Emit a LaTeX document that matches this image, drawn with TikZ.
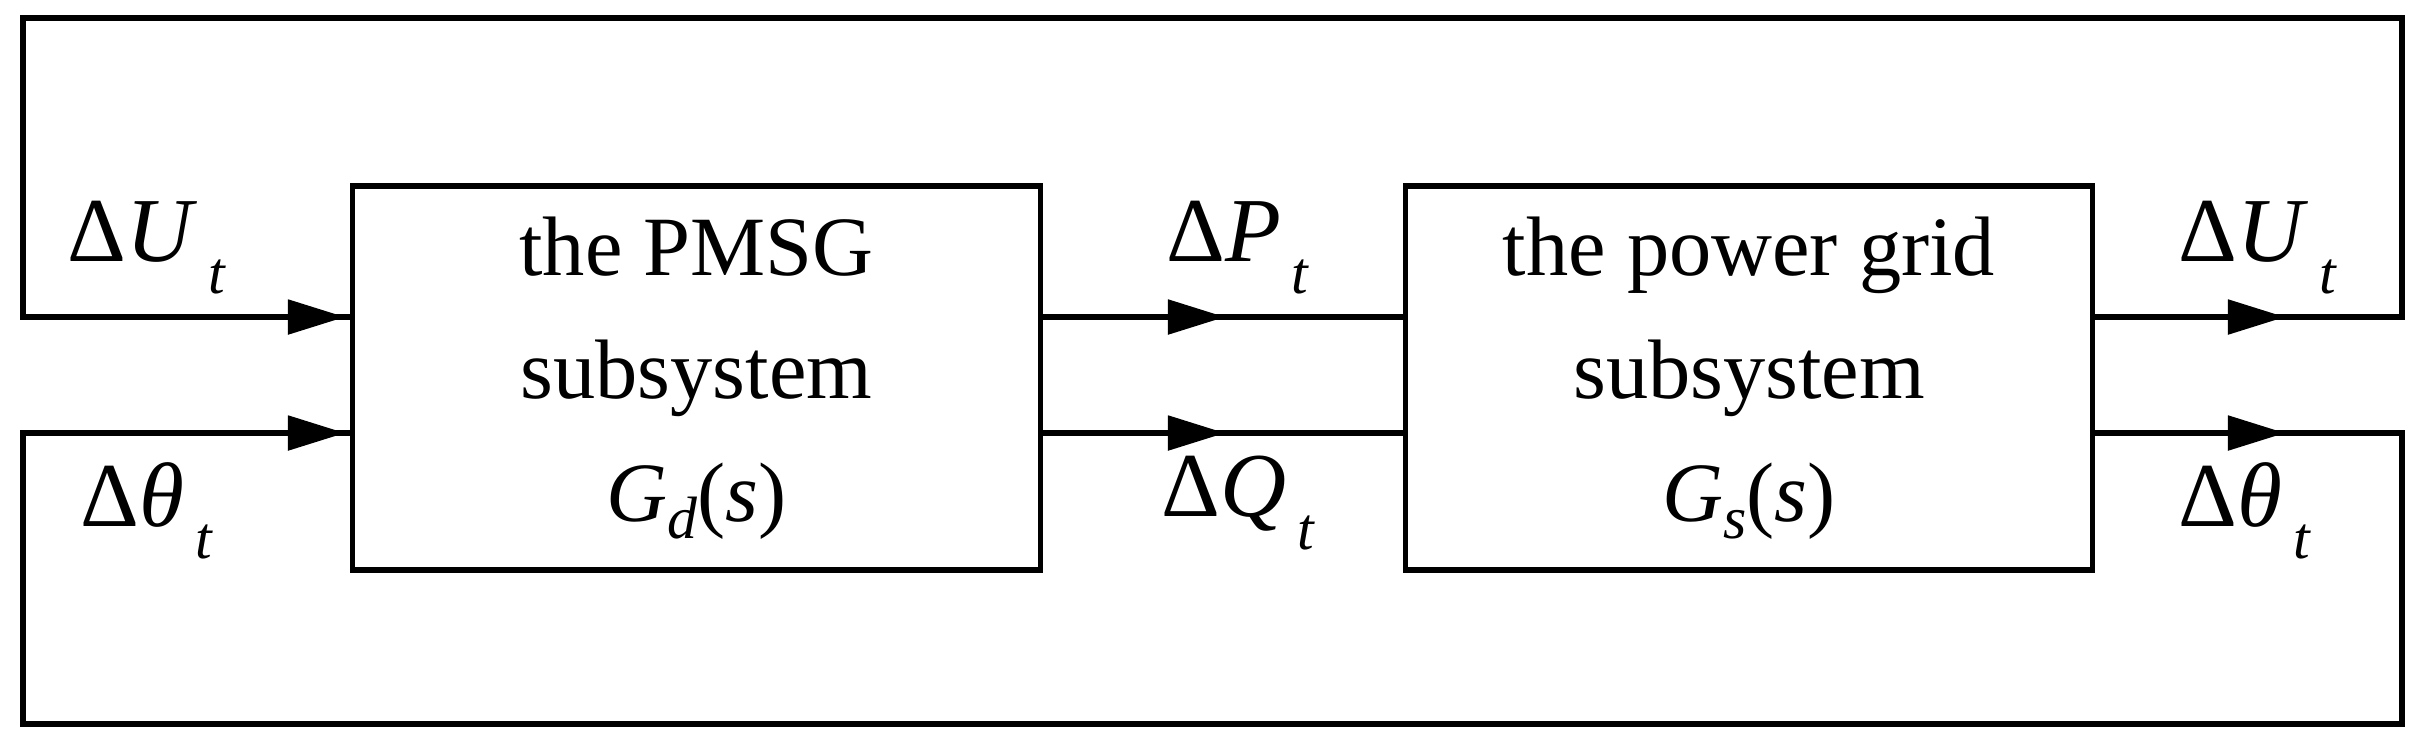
\documentclass[tikz,border=0pt]{standalone}
\usepackage{fontspec}
\setmainfont{Liberation Serif}
\usetikzlibrary{arrows.meta}
\newcommand{\lbl}[2]{Δ\textit{#1}\hspace{0.12em}\raisebox{-0.35em}{\fontsize{17}{17}\selectfont\textit{#2}}}
\begin{document}
\begin{tikzpicture}[x=0.01cm,y=-0.01cm,line width=1.5pt,
  blk/.style={draw,minimum width=6.87cm,minimum height=3.84cm,align=center,font=\fontsize{24}{35}\selectfont,inner sep=0},
  lab/.style={font=\fontsize{26}{30}\selectfont,inner sep=0},
  arr/.style={-{Triangle[length=0.57cm,width=0.34cm]}}]
\useasboundingbox (0,0) rectangle (2427,750);
\node[blk] (b1) at (696.5,378) {the PMSG\\subsystem\\\textit{G\raisebox{-0.2em}{\fontsize{17}{17}\selectfont d}}(\textit{s})};
\node[blk] (b2) at (1749,378) {the power grid\\subsystem\\\textit{G\raisebox{-0.2em}{\fontsize{17}{17}\selectfont s}}(\textit{s})};
\coordinate (tl) at (23,18); \coordinate (tr) at (2402,18);
\coordinate (bl) at (23,724); \coordinate (br) at (2402,724);
\coordinate (l1) at (23,317); \coordinate (l2) at (23,433);
\coordinate (r1) at (2402,317); \coordinate (r2) at (2402,433);
\coordinate (al1) at (345,317); \coordinate (al2) at (345,433);
\coordinate (am1) at (1225,317); \coordinate (am2) at (1225,433);
\coordinate (ar1) at (2285,317); \coordinate (ar2) at (2285,433);
% feedback loops
\draw (b2.east |- r1) -- (r1) -- (tr) -- (tl) -- (l1) -- (b1.west |- l1);
\draw (b2.east |- r2) -- (r2) -- (br) -- (bl) -- (l2) -- (b1.west |- l2);
\draw[arr] (l1) -- (al1); \draw[arr] (l2) -- (al2);
\draw (b1.east |- am1) -- (b2.west |- am1);
\draw (b1.east |- am2) -- (b2.west |- am2);
\draw[arr] (b1.east |- am1) -- (am1); \draw[arr] (b1.east |- am2) -- (am2);
\draw[arr] (b2.east |- ar1) -- (ar1); \draw[arr] (b2.east |- ar2) -- (ar2);
\node[lab] (u1) at (147,248) {\lbl{U}{t}};
\node[lab] (t1) at (147,511) {\lbl{θ}{t}};
\node[lab] (p) at (1238,248) {\lbl{P}{t}};
\node[lab] (q) at (1238,503) {\lbl{Q}{t}};
\node[lab] (u2) at (2258,248) {\lbl{U}{t}};
\node[lab] (t2) at (2245,511) {\lbl{θ}{t}};
\end{tikzpicture}
\end{document}
